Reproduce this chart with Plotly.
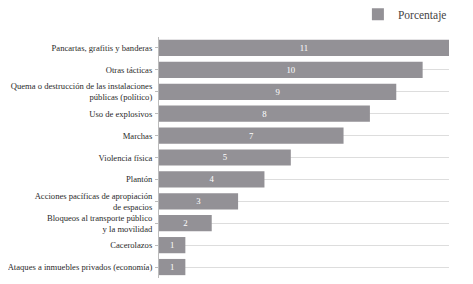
import plotly.graph_objects as go

categories = [
    "Pancartas, grafitis y banderas",
    "Otras tácticas",
    "Quema o destrucción de las instalaciones<br>públicas (político)",
    "Uso de explosivos",
    "Marchas",
    "Violencia física",
    "Plantón",
    "Acciones pacíficas de apropiación<br>de espacios",
    "Bloqueos al transporte público<br>y la movilidad",
    "Cacerolazos",
    "Ataques a inmuebles privados (economía)",
]
values = [11, 10, 9, 8, 7, 5, 4, 3, 2, 1, 1]
series_name = "Porcentaje"

FONT = "Liberation Serif"

fig = go.Figure()
fig.add_trace(go.Bar(
    y=categories,
    x=values,
    orientation="h",
    name=series_name,
    marker=dict(color="#939196", line=dict(width=0)),
    text=[str(v) for v in values],
    textposition="inside",
    insidetextanchor="middle",
    textangle=0,
    textfont=dict(color="#ffffff", size=12, family=FONT),
    width=0.74,
    showlegend=True,
))

# the page body adds an 8px offset; margins compensate for it
fig.update_layout(
    width=473,
    height=284,
    margin=dict(l=151, r=32, t=29, b=14, autoexpand=False),
    paper_bgcolor="white",
    plot_bgcolor="white",
    font=dict(family=FONT, size=8.6, color="#333333"),
    showlegend=True,
    legend=dict(
        x=1.01, xanchor="right", y=1.155, yanchor="top",
        orientation="h",
        font=dict(size=11.5, color="#444444", family=FONT),
        itemwidth=30,
        bgcolor="rgba(0,0,0,0)",
    ),
    bargap=0.26,
)
fig.update_yaxes(
    autorange="reversed",
    showgrid=True,
    gridcolor="#dddddd",
    gridwidth=1,
    showline=True,
    linecolor="#bbbbbb",
    linewidth=1,
    ticks="outside",
    ticklen=3,
    tickcolor="#bbbbbb",
    ticklabelstandoff=1,
    tickfont=dict(size=8.6, color="#2a2a2a", family=FONT),
    automargin=False,
)
fig.update_xaxes(
    range=[0, 11],
    visible=False,
    showgrid=False,
    zeroline=False,
)

fig.write_html("out.html")
